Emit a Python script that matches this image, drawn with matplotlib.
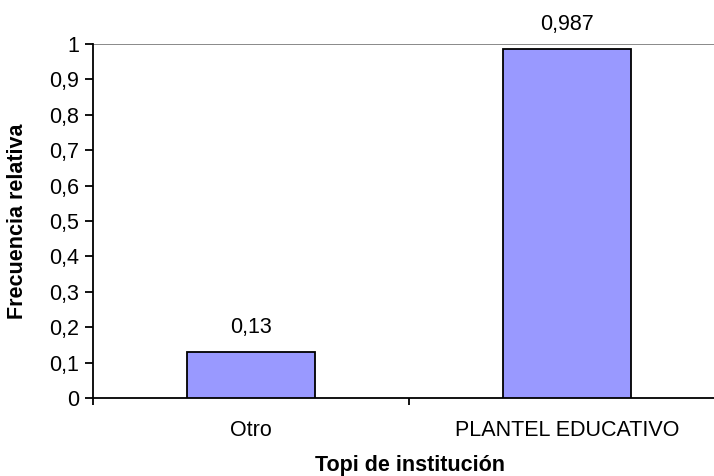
import matplotlib
matplotlib.use('Agg')
import matplotlib.pyplot as plt
from matplotlib.ticker import FixedLocator, FuncFormatter

categories = ['Otro', 'PLANTEL EDUCATIVO']
values = [0.13, 0.987]
value_labels = ['0,13', '0,987']
y_ticks = [0, 0.1, 0.2, 0.3, 0.4, 0.5, 0.6, 0.7, 0.8, 0.9, 1.0]

plt.rcParams['font.family'] = ['Liberation Sans', 'DejaVu Sans']
FS = 15.5

fig = plt.figure(figsize=(7.14, 4.76), dpi=100)
# the plot area runs past the right edge of the picture, as in the original
ax = fig.add_axes([93 / 714, 1 - 398 / 476, 632 / 714, 354 / 476])

x = range(len(categories))
ax.bar(x, values, width=0.405, color='#9999FF', edgecolor='black', linewidth=1.3, zorder=3)
for i, v in enumerate(values):
    ax.annotate(value_labels[i], (i, v), xytext=(0, 10), textcoords='offset points',
                ha='center', va='bottom', fontsize=FS)

ax.axhline(1.0, color='#808080', linewidth=1.3, zorder=1)

ax.set_xlim(-0.5, len(categories) - 0.5)
ax.set_ylim(0, 1)
ax.set_yticks(y_ticks)
ax.yaxis.set_major_formatter(FuncFormatter(lambda v, p: ('%g' % round(v, 1)).replace('.', ',')))
ax.set_xticks(list(x))
ax.set_xticklabels(categories)
ax.xaxis.set_minor_locator(FixedLocator([-0.5, 0.5, 1.5]))
ax.tick_params(axis='x', which='major', length=0, pad=16, labelsize=FS)
ax.tick_params(axis='x', which='minor', length=5, width=1.3, direction='out')
ax.tick_params(axis='y', length=6, width=1.3, direction='out', labelsize=FS, pad=4)

for s in ['top', 'right']:
    ax.spines[s].set_visible(False)
ax.spines['left'].set_linewidth(1.3)
ax.spines['bottom'].set_linewidth(1.3)

fig.text(410 / 714, 1 - 466 / 476, 'Topi de institución', ha='center', va='center',
         fontsize=FS, fontweight='bold')
fig.text(18 / 714, 1 - 221 / 476, 'Frecuencia relativa', ha='center', va='center',
         rotation=90, fontsize=FS, fontweight='bold')

fig.savefig('out.png', dpi=100)
